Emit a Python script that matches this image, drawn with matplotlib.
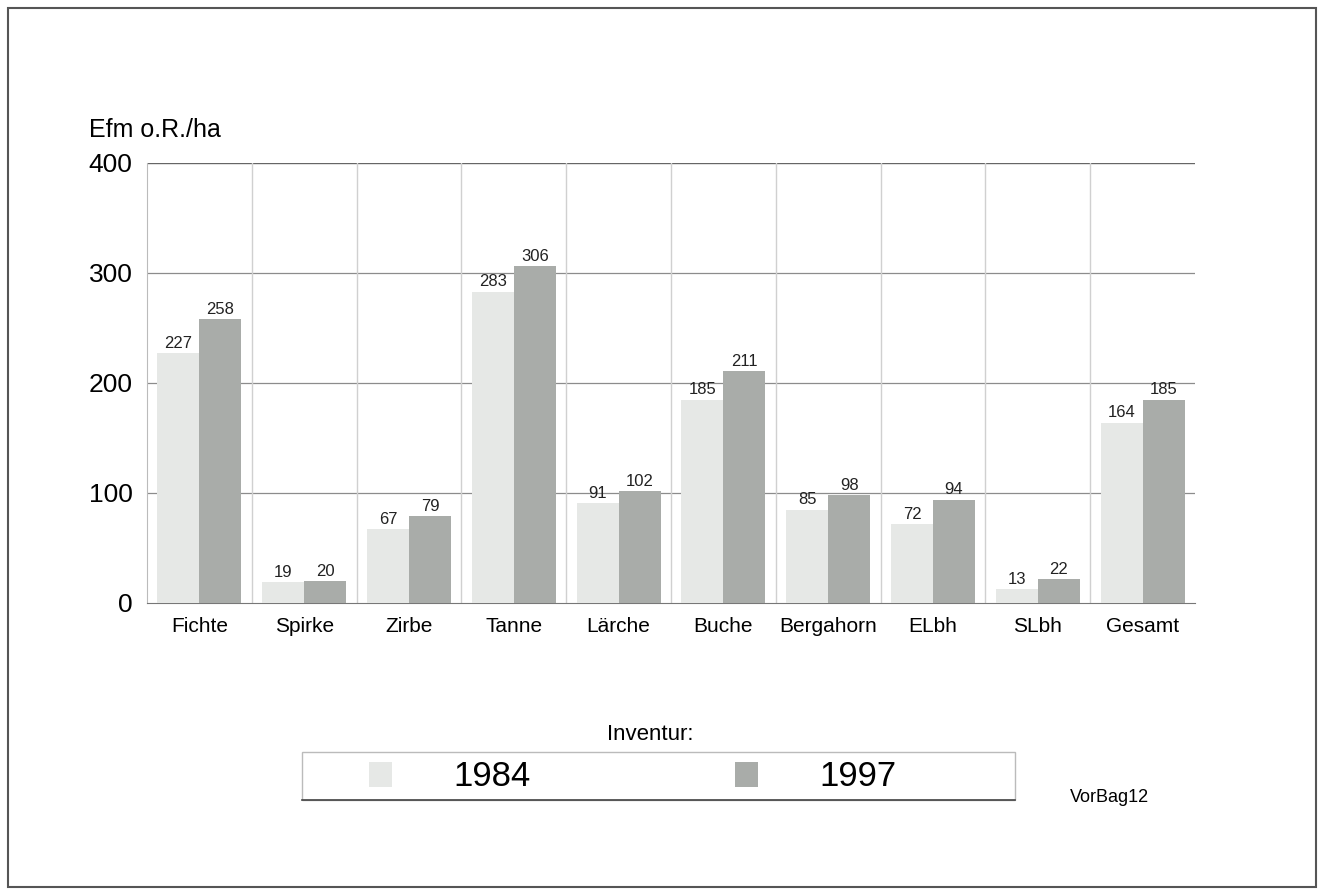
import matplotlib.pyplot as plt
import numpy as np
from matplotlib.patches import Rectangle, Patch

plt.rcParams['font.family'] = ['Liberation Sans', 'DejaVu Sans']

# Vorrat je Baumart, Efm o.R./ha
arten = ['Fichte', 'Spirke', 'Zirbe', 'Tanne', 'Lärche', 'Buche',
         'Bergahorn', 'ELbh', 'SLbh', 'Gesamt']
inv_1984 = [227, 19, 67, 283, 91, 185, 85, 72, 13, 164]
inv_1997 = [258, 20, 79, 306, 102, 211, 98, 94, 22, 185]

farbe_1984 = '#e6e8e6'
farbe_1997 = '#a9aca9'

W, H = 1323, 891
fig = plt.figure(figsize=(W / 100, H / 100), dpi=100)
ax = fig.add_axes([147 / W, 1 - 603 / H, 1048 / W, 440 / H])

x = np.arange(len(arten))
b = 0.4
ax.bar(x - b / 2, inv_1984, b, color=farbe_1984, zorder=3)
ax.bar(x + b / 2, inv_1997, b, color=farbe_1997, zorder=3)

for xi, v in zip(x, inv_1984):
    ax.text(xi - b / 2, v + 2, str(v), ha='center', va='bottom', fontsize=12, color='#222222', zorder=4)
for xi, v in zip(x, inv_1997):
    ax.text(xi + b / 2, v + 2, str(v), ha='center', va='bottom', fontsize=12, color='#222222', zorder=4)

ax.set_xlim(-0.5, len(arten) - 0.5)
ax.set_ylim(0, 400)
ax.set_yticks([0, 100, 200, 300, 400])
ax.set_xticks(x)
ax.set_xticklabels(arten, fontsize=15)
ax.tick_params(axis='y', labelsize=19, length=0, pad=10.5)
ax.tick_params(axis='x', length=0, pad=10)

# Gitter
for yv in [100, 200, 300]:
    ax.axhline(yv, color='#8c8c8c', lw=0.9, zorder=1)
ax.axhline(400, color='#666666', lw=1.0, zorder=1)
for xv in np.arange(0.5, len(arten) - 0.5, 1):
    ax.axvline(xv, color='#d0d0d0', lw=1.0, zorder=1)

for s in ['top', 'right']:
    ax.spines[s].set_visible(False)
ax.spines['left'].set_color('#bbbbbb')
ax.spines['bottom'].set_color('#777777')

fig.text(89 / W, 1 - 130 / H, 'Efm o.R./ha', fontsize=18, ha='left', va='center')

# Legende
fig.text(650 / W, 1 - 735 / H, 'Inventur:', fontsize=16, ha='center', va='center')
fig.patches.append(Rectangle((302 / W, 1 - 800 / H), 713 / W, 48 / H,
                             transform=fig.transFigure, fill=False,
                             edgecolor='#bbbbbb', lw=1.0))
fig.add_artist(plt.Line2D([302 / W, 1015 / W], [1 - 800 / H, 1 - 800 / H],
                          transform=fig.transFigure, color='#444444', lw=1.2))
handles = [Patch(facecolor=farbe_1984, label='1984'),
           Patch(facecolor=farbe_1997, label='1997')]
fig.legend(handles=handles, loc='center left', bbox_to_anchor=(369 / W, 1 - 777 / H),
           ncol=2, frameon=False, fontsize=25, handlelength=0.66, handleheight=0.72,
           handletextpad=1.76, columnspacing=5.9, borderpad=0, borderaxespad=0)

fig.text(1070 / W, 1 - 798 / H, 'VorBag12', fontsize=13, ha='left', va='center')

# Rahmen um die ganze Grafik
fig.patches.append(Rectangle((8 / W, 1 - 887 / H), 1308 / W, 879 / H,
                             transform=fig.transFigure, fill=False,
                             edgecolor='#555555', lw=1.5))

fig.savefig('out.png', dpi=100, facecolor='white')
